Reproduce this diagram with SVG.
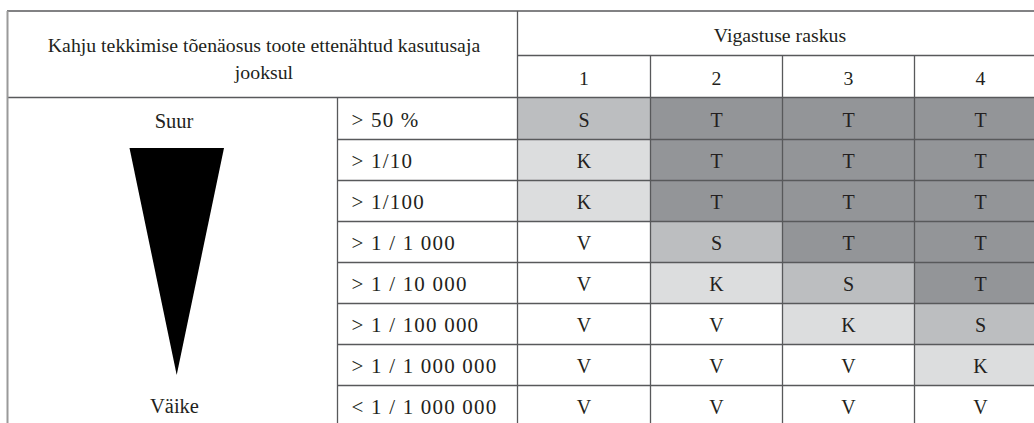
<svg xmlns="http://www.w3.org/2000/svg" width="1034" height="423" viewBox="0 0 1034 423">
<style>
text{font-family:"Liberation Serif","Times New Roman",serif;fill:#231f20;text-anchor:middle}
.h{font-size:19.8px}
.d{font-size:20px}
.r{font-size:21px;text-anchor:start;letter-spacing:1.2px}
.T{fill:#939598}.S{fill:#bcbec0}.K{fill:#dcddde}.V{fill:#ffffff}
.ln{stroke:#58595b;stroke-width:1.3;fill:none}
.lg{stroke:#9a9a9a;stroke-width:2;fill:none}
</style>
<rect x="0" y="0" width="1034" height="423" fill="#ffffff"/>
<g id="cells">
<g id="r1"><rect class="S" x="517.5" y="97.5" width="133" height="42"/><rect class="T" x="650.5" y="97.5" width="132" height="42"/><rect class="T" x="782.5" y="97.5" width="132" height="42"/><rect class="T" x="914.5" y="97.5" width="120" height="42"/></g>
<g id="r2"><rect class="K" x="517.5" y="139.5" width="133" height="41"/><rect class="T" x="650.5" y="139.5" width="132" height="41"/><rect class="T" x="782.5" y="139.5" width="132" height="41"/><rect class="T" x="914.5" y="139.5" width="120" height="41"/></g>
<g id="r3"><rect class="K" x="517.5" y="180.5" width="133" height="41"/><rect class="T" x="650.5" y="180.5" width="132" height="41"/><rect class="T" x="782.5" y="180.5" width="132" height="41"/><rect class="T" x="914.5" y="180.5" width="120" height="41"/></g>
<g id="r4"><rect class="S" x="650.5" y="221.5" width="132" height="41"/><rect class="T" x="782.5" y="221.5" width="132" height="41"/><rect class="T" x="914.5" y="221.5" width="120" height="41"/></g>
<g id="r5"><rect class="K" x="650.5" y="262.5" width="132" height="41"/><rect class="S" x="782.5" y="262.5" width="132" height="41"/><rect class="T" x="914.5" y="262.5" width="120" height="41"/></g>
<g id="r6"><rect class="K" x="782.5" y="303.5" width="132" height="41"/><rect class="S" x="914.5" y="303.5" width="120" height="41"/></g>
<g id="r7"><rect class="K" x="914.5" y="344.5" width="120" height="41"/></g>
</g>
<g id="grid">
<line class="ln" x1="7" y1="11" x2="1034" y2="11"/>
<line class="ln" x1="517.5" y1="55.5" x2="1034" y2="55.5"/>
<line class="ln" x1="7" y1="97.5" x2="1034" y2="97.5"/>
<line class="ln" x1="337.5" y1="139.5" x2="1034" y2="139.5"/>
<line class="ln" x1="337.5" y1="180.5" x2="1034" y2="180.5"/>
<line class="ln" x1="337.5" y1="221.5" x2="1034" y2="221.5"/>
<line class="ln" x1="337.5" y1="262.5" x2="1034" y2="262.5"/>
<line class="ln" x1="337.5" y1="303.5" x2="1034" y2="303.5"/>
<line class="ln" x1="337.5" y1="344.5" x2="1034" y2="344.5"/>
<line class="ln" x1="337.5" y1="385.5" x2="1034" y2="385.5"/>
<line class="lg" x1="7.5" y1="11" x2="7.5" y2="423"/>
<line class="ln" x1="517.5" y1="11" x2="517.5" y2="423"/>
<line class="ln" x1="337.5" y1="97.5" x2="337.5" y2="423"/>
<line class="ln" x1="650.5" y1="55.5" x2="650.5" y2="423"/>
<line class="ln" x1="782.5" y1="55.5" x2="782.5" y2="423"/>
<line class="ln" x1="914.5" y1="55.5" x2="914.5" y2="423"/>
</g>
<g id="header">
<text class="h" x="264" y="52">Kahju tekkimise tõenäosus toote ettenähtud kasutusaja</text>
<text class="h" x="264" y="79">jooksul</text>
<text class="h" x="780" y="42">Vigastuse raskus</text>
<text class="h" x="584" y="85">1</text>
<text class="h" x="716.5" y="85">2</text>
<text class="h" x="848.5" y="85">3</text>
<text class="h" x="980.5" y="85">4</text>
</g>
<g id="scale">
<text class="d" x="174" y="128" style="font-size:20.5px">Suur</text>
<polygon points="129.5,148 224,148 176.7,375" fill="#000000"/>
<text class="d" x="174.5" y="413" style="font-size:20.5px">Väike</text>
</g>
<g id="ranges">
<text class="r" x="351.5" y="127">&gt; 50 %</text>
<text class="r" x="351.5" y="168">&gt; 1/10</text>
<text class="r" x="351.5" y="209">&gt; 1/100</text>
<text class="r" x="351.5" y="250">&gt; 1 / 1 000</text>
<text class="r" x="351.5" y="291">&gt; 1 / 10 000</text>
<text class="r" x="351.5" y="332">&gt; 1 / 100 000</text>
<text class="r" x="351.5" y="373">&gt; 1 / 1 000 000</text>
<text class="r" x="351.5" y="414">&lt; 1 / 1 000 000</text>
</g>
<g id="values">
<text class="d" x="584" y="127">S</text><text class="d" x="716.5" y="127">T</text><text class="d" x="848.5" y="127">T</text><text class="d" x="980.5" y="127">T</text>
<text class="d" x="584" y="168">K</text><text class="d" x="716.5" y="168">T</text><text class="d" x="848.5" y="168">T</text><text class="d" x="980.5" y="168">T</text>
<text class="d" x="584" y="209">K</text><text class="d" x="716.5" y="209">T</text><text class="d" x="848.5" y="209">T</text><text class="d" x="980.5" y="209">T</text>
<text class="d" x="584" y="250">V</text><text class="d" x="716.5" y="250">S</text><text class="d" x="848.5" y="250">T</text><text class="d" x="980.5" y="250">T</text>
<text class="d" x="584" y="291">V</text><text class="d" x="716.5" y="291">K</text><text class="d" x="848.5" y="291">S</text><text class="d" x="980.5" y="291">T</text>
<text class="d" x="584" y="332">V</text><text class="d" x="716.5" y="332">V</text><text class="d" x="848.5" y="332">K</text><text class="d" x="980.5" y="332">S</text>
<text class="d" x="584" y="373">V</text><text class="d" x="716.5" y="373">V</text><text class="d" x="848.5" y="373">V</text><text class="d" x="980.5" y="373">K</text>
<text class="d" x="584" y="414">V</text><text class="d" x="716.5" y="414">V</text><text class="d" x="848.5" y="414">V</text><text class="d" x="980.5" y="414">V</text>
</g>
</svg>
